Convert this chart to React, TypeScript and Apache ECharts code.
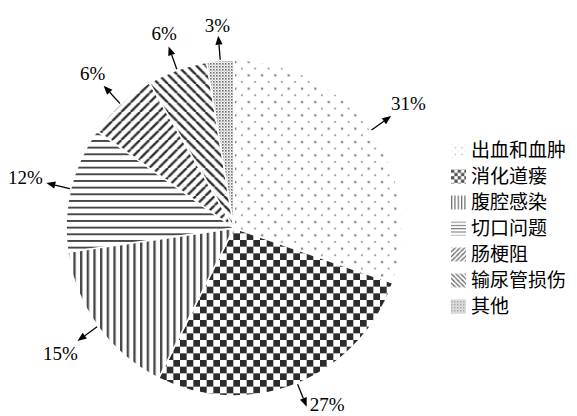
import React, { useEffect, useRef } from 'react';
import * as echarts from 'echarts';

const categories = ['出血和血肿', '消化道瘘', '腹腔感染', '切口问题', '肠梗阻', '输尿管损伤', '其他'];
// slice shares
const shares = [30.3, 27.1, 15.3, 12.1, 6.8, 5.8, 2.6];
// percentage labels as printed
const percentLabels = ['31%', '27%', '15%', '12%', '6%', '6%', '3%'];

type Painter = (ctx: CanvasRenderingContext2D, s: number) => void;

function makePattern(size: number, paint: Painter, scale: number) {
  const c = document.createElement('canvas');
  c.width = size;
  c.height = size;
  const ctx = c.getContext('2d') as CanvasRenderingContext2D;
  ctx.fillStyle = '#ffffff';
  ctx.fillRect(0, 0, size, size);
  paint(ctx, size);
  return {
    image: c.toDataURL(),
    repeat: 'repeat',
    imageWidth: size,
    imageHeight: size,
    scaleX: scale,
    scaleY: scale,
  };
}

function buildPatterns(scale: number, light: boolean) {
  const dark = light ? '#555555' : '#2c2c2c';
  const mid = light ? '#6a6a6a' : '#474747';
  const dots = makePattern(40, (ctx) => {
    ctx.fillStyle = light ? '#b5b5b5' : '#8c8c8c';
    ctx.fillRect(3, 3, 5, 5);
    ctx.fillStyle = light ? '#a0a0a0' : '#6a6a6a';
    ctx.fillRect(23, 23, 6, 6);
  }, scale);
  const checker = makePattern(40, (ctx) => {
    ctx.fillStyle = dark;
    ctx.fillRect(0, 0, 20, 20);
    ctx.fillRect(20, 20, 20, 20);
  }, scale);
  const vertical = makePattern(20, (ctx) => {
    ctx.fillStyle = mid;
    ctx.fillRect(0, 0, 7, 20);
  }, scale);
  const horizontal = makePattern(20, (ctx) => {
    ctx.fillStyle = mid;
    ctx.fillRect(0, 0, 20, 6);
  }, scale);
  const slash = makePattern(28, (ctx, s) => {
    ctx.strokeStyle = dark;
    ctx.lineWidth = 7;
    ctx.beginPath();
    for (let k = -1; k <= 1; k++) {
      ctx.moveTo(k * s, s);
      ctx.lineTo(k * s + s, 0);
    }
    ctx.stroke();
  }, scale);
  const backslash = makePattern(28, (ctx, s) => {
    ctx.strokeStyle = dark;
    ctx.lineWidth = 7;
    ctx.beginPath();
    for (let k = -1; k <= 1; k++) {
      ctx.moveTo(k * s, 0);
      ctx.lineTo(k * s + s, s);
    }
    ctx.stroke();
  }, scale);
  const dense = makePattern(9, (ctx) => {
    ctx.fillStyle = light ? '#8a8a8a' : '#6e6e6e';
    ctx.fillRect(0, 0, 5, 5);
    ctx.fillStyle = '#b0b0b0';
    ctx.fillRect(5, 5, 3, 3);
  }, scale);
  return [dots, checker, vertical, horizontal, slash, backslash, dense];
}

export default function App() {
  const ref = useRef<HTMLDivElement>(null);

  useEffect(() => {
    const el = ref.current as HTMLDivElement;
    const chart = echarts.init(el, null, { renderer: 'svg' });
    const patterns = buildPatterns(1 / 3, false);
    const legendPatterns = buildPatterns(1 / 6, true);
    const serifFont = "'Liberation Serif', 'Times New Roman', serif";

    const cx = 234;
    const cy = 228;
    const radius = 168;

    chart.setOption({
      animation: false,
      backgroundColor: '#ffffff',
      legend: {
        orient: 'vertical',
        left: 446,
        top: 136,
        itemWidth: 15,
        itemHeight: 14,
        itemGap: 7,
        icon: 'rect',
        selectedMode: false,
        data: categories.map((name, i) => ({
          name,
          itemStyle: { color: legendPatterns[i], borderWidth: 0 },
        })),
        textStyle: {
          fontFamily: "'Liberation Serif', 'Noto Sans CJK SC', serif",
          fontSize: 19,
          lineHeight: 19,
          color: '#000000',
        },
      },
      series: [
        {
          type: 'pie',
          center: [cx, cy],
          radius: radius,
          startAngle: 90,
          clockwise: true,
          silent: true,
          label: { show: false },
          labelLine: { show: false },
          emphasis: { disabled: true },
          itemStyle: { borderColor: '#ffffff', borderWidth: 1.5 },
          data: categories.map((name, i) => ({
            name,
            value: shares[i],
            itemStyle: { color: patterns[i] },
          })),
        },
      ],
    } as any);

    // read the slice layout computed by the library
    let layouts: any[] = [];
    try {
      const data = (chart as any).getModel().getSeriesByIndex(0).getData();
      for (let i = 0; i < data.count(); i++) layouts.push(data.getItemLayout(i));
    } catch (e) {
      layouts = [];
    }
    if (!layouts.length || layouts.some((l) => !l)) {
      const total = shares.reduce((a, b) => a + b, 0);
      let a = -Math.PI / 2;
      layouts = shares.map((v) => {
        const s = a;
        a += (v / total) * Math.PI * 2;
        return { cx, cy, r: radius, startAngle: s, endAngle: a };
      });
    }

    const fs = 19;
    const H = el.clientHeight || 416;
    const elements: any[] = [];
    layouts.forEach((L, i) => {
      const midA = (L.startAngle + L.endAngle) / 2;
      const ux = Math.cos(midA);
      const uy = Math.sin(midA);
      const r = L.r;
      const p0 = [L.cx + ux * r, L.cy + uy * r];
      const tipR = r + 25;
      const tip = [L.cx + ux * tipR, L.cy + uy * tipR];
      const head = 9;
      const hw = 3.6;
      const base = [tip[0] - ux * head, tip[1] - uy * head];
      const px = -uy;
      const py = ux;
      elements.push({
        type: 'line',
        silent: true,
        shape: { x1: p0[0], y1: p0[1], x2: base[0], y2: base[1] },
        style: { stroke: '#000000', lineWidth: 1.3 },
      });
      elements.push({
        type: 'polygon',
        silent: true,
        shape: {
          points: [
            [tip[0], tip[1]],
            [base[0] + px * hw, base[1] + py * hw],
            [base[0] - px * hw, base[1] - py * hw],
          ],
        },
        style: { fill: '#000000' },
      });
      const text = percentLabels[i];
      const w = (text.length - 1) * 0.5 * fs + 0.833 * fs;
      const h = 0.7 * fs;
      const half = (Math.abs(ux) * w) / 2 + (Math.abs(uy) * h) / 2;
      let tx = tip[0] + ux * (3 + half);
      let ty = tip[1] + uy * (3 + half);
      const maxY = H - fs / 2 - 2;
      if (ty > maxY) {
        ty = maxY;
        tx = tip[0] + Math.sign(ux) * (w / 2 + 3);
      }
      elements.push({
        type: 'text',
        silent: true,
        x: tx,
        y: ty,
        style: {
          text,
          fontFamily: serifFont,
          fontSize: fs,
          fill: '#000000',
          align: 'center',
          verticalAlign: 'middle',
        },
      });
    });

    chart.setOption({ graphic: { elements } } as any);

    return () => {
      chart.dispose();
    };
  }, []);

  return (
    <div
      ref={ref}
      style={{ position: 'fixed', left: 0, top: 0, width: 577, height: 416, background: '#ffffff' }}
    />
  );
}
